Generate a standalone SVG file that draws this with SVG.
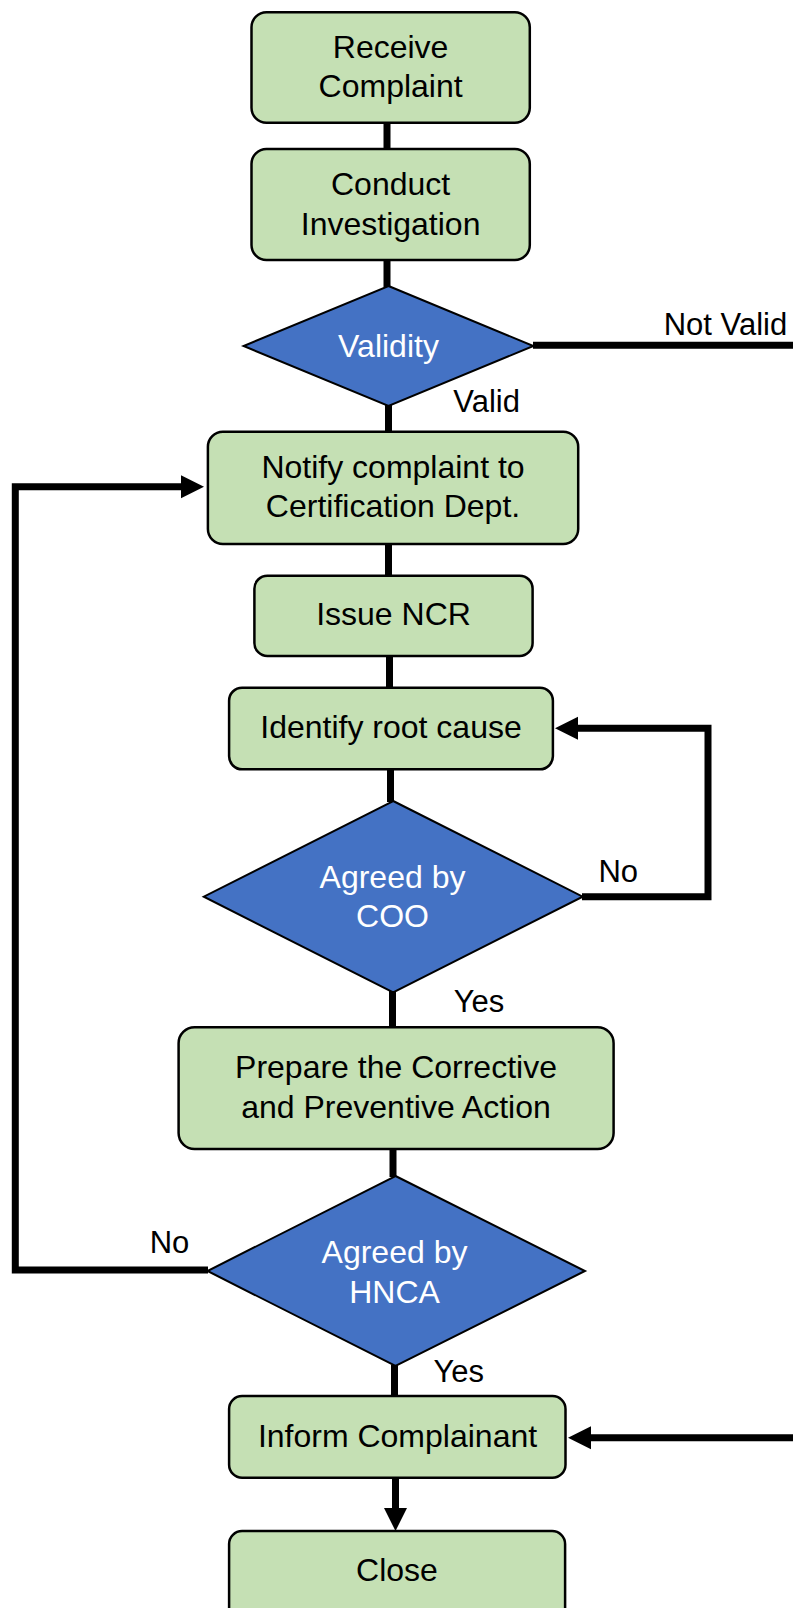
<svg xmlns="http://www.w3.org/2000/svg" width="793" height="1608" viewBox="0 0 793 1608">
  <style>
    .box { fill: #C5E0B4; stroke: #000; stroke-width: 2.5; }
    .dia { fill: #4472C4; stroke: #000; stroke-width: 2; }
    .t { font-family: "Liberation Sans", Arial, sans-serif; font-size: 32px; fill: #000; text-anchor: middle; }
    .tw { font-family: "Liberation Sans", Arial, sans-serif; font-size: 32px; fill: #fff; text-anchor: middle; }
    .lbl { font-family: "Liberation Sans", Arial, sans-serif; font-size: 31px; fill: #000; }
    .c { fill: none; stroke: #000; stroke-width: 7; stroke-linejoin: miter; }
  </style>
  <defs>
    <marker id="ah" markerUnits="userSpaceOnUse" markerWidth="24" markerHeight="24" refX="0" refY="11.5" orient="auto" overflow="visible">
      <path d="M0,0 L23,11.5 L0,23 Z" fill="#000"/>
    </marker>
  </defs>
  <rect width="793" height="1608" fill="#fff"/>

  <g id="connectors">
    <path class="c" d="M387,122 V150"/>
    <path class="c" d="M387,259 V287"/>
    <path class="c" d="M388.5,405 V432"/>
    <path class="c" d="M388.5,543 V576"/>
    <path class="c" d="M389.5,655 V688"/>
    <path class="c" d="M390.5,768 V802"/>
    <path class="c" d="M392.5,991 V1028"/>
    <path class="c" d="M393,1148 V1177"/>
    <path class="c" d="M394.5,1365 V1397"/>
    <path class="c" d="M533,345.3 H800 V1437.7 H591" marker-end="url(#ah)"/>
    <path class="c" d="M582,896.7 H708 V728.3 H578" marker-end="url(#ah)"/>
    <path class="c" d="M208,1270 H15.3 V486.7 H181" marker-end="url(#ah)"/>
    <path class="c" d="M395.5,1477 V1508" marker-end="url(#ah)"/>
  </g>

  <g id="receive">
    <rect class="box" x="251.5" y="12.3" width="278.3" height="110.4" rx="15"/>
    <text class="t" x="390.6" y="58.3">Receive</text>
    <text class="t" x="390.6" y="97.3">Complaint</text>
  </g>
  <g id="conduct">
    <rect class="box" x="251.5" y="149" width="278.3" height="111" rx="15"/>
    <text class="t" x="390.6" y="195">Conduct</text>
    <text class="t" x="390.6" y="235">Investigation</text>
  </g>
  <g id="validity">
    <polygon class="dia" points="388.5,286 533.4,346 388.5,406 243.6,346"/>
    <text class="tw" x="388.5" y="356.5">Validity</text>
  </g>
  <g id="notify">
    <rect class="box" x="207.9" y="431.7" width="370.3" height="112.3" rx="15"/>
    <text class="t" x="393" y="478.3">Notify complaint to</text>
    <text class="t" x="393" y="517.3">Certification Dept.</text>
  </g>
  <g id="issue">
    <rect class="box" x="254.4" y="575.7" width="278.2" height="80.3" rx="13"/>
    <text class="t" x="393.5" y="625">Issue NCR</text>
  </g>
  <g id="identify">
    <rect class="box" x="229.1" y="687.7" width="323.8" height="81.6" rx="13"/>
    <text class="t" x="391" y="738.3">Identify root cause</text>
  </g>
  <g id="coo">
    <polygon class="dia" points="393.2,801 582.7,896.7 393.2,992.3 203.8,896.7"/>
    <text class="tw" x="392.5" y="888.3">Agreed by</text>
    <text class="tw" x="392.5" y="927.3">COO</text>
  </g>
  <g id="prepare">
    <rect class="box" x="178.6" y="1027.3" width="435" height="121.7" rx="16"/>
    <text class="t" x="396" y="1078.3">Prepare the Corrective</text>
    <text class="t" x="396" y="1117.7">and Preventive Action</text>
  </g>
  <g id="hnca">
    <polygon class="dia" points="395.5,1176 585,1271 395.5,1366 207.5,1271"/>
    <text class="tw" x="394.5" y="1263.3">Agreed by</text>
    <text class="tw" x="394.5" y="1303.3">HNCA</text>
  </g>
  <g id="inform">
    <rect class="box" x="229.1" y="1396" width="336.4" height="81.7" rx="13"/>
    <text class="t" x="397.5" y="1446.7">Inform Complainant</text>
  </g>
  <g id="close">
    <rect class="box" x="229.1" y="1531" width="336" height="90" rx="13"/>
    <text class="t" x="397" y="1580.7">Close</text>
  </g>

  <g id="labels">
    <text class="lbl" x="663.7" y="335">Not Valid</text>
    <text class="lbl" x="453.3" y="412">Valid</text>
    <text class="lbl" x="598.4" y="881.7">No</text>
    <text class="lbl" x="453.7" y="1011.7">Yes</text>
    <text class="lbl" x="149.7" y="1253">No</text>
    <text class="lbl" x="433.5" y="1381.7">Yes</text>
  </g>
</svg>
